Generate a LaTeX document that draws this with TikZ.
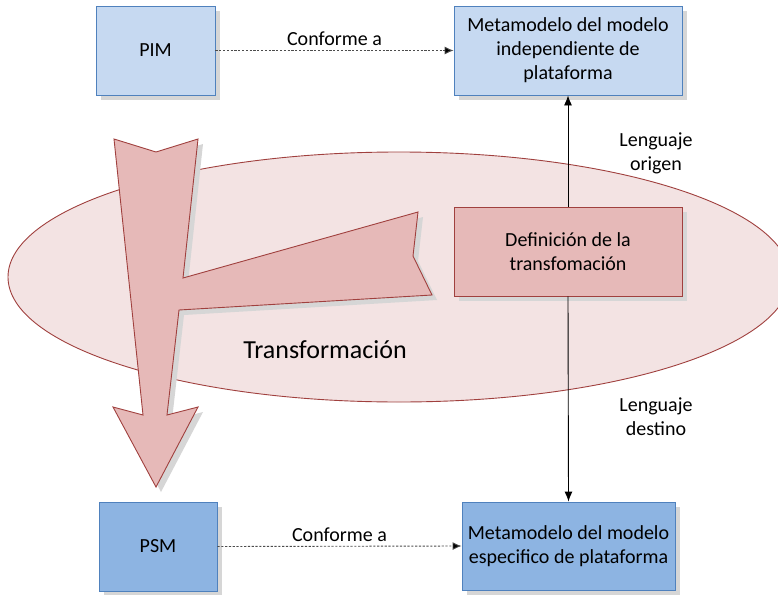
\documentclass[tikz,border=0pt]{standalone}
\usepackage{fontspec}
\setmainfont{Carlito}
\usetikzlibrary{arrows.meta,shadows}

\definecolor{pimfill}{HTML}{C6D9F1}
\definecolor{psmfill}{HTML}{8DB4E2}
\definecolor{bluedge}{HTML}{4F81BD}
\definecolor{rosefill}{HTML}{E6B9B8}
\definecolor{redge}{HTML}{A0403E}
\definecolor{ovalfill}{HTML}{F3E3E3}
\definecolor{shade}{HTML}{D6D6D6}

\tikzset{
  shadowed/.style={drop shadow={shadow xshift=5pt, shadow yshift=-5pt, fill=shade, opacity=1}},
  modelbox/.style={draw=bluedge, line width=0.9pt, shadowed, align=center,
    inner sep=0pt, font=\fontsize{20}{24}\selectfont},
  defbox/.style={draw=redge, fill=rosefill, line width=0.9pt, shadowed, align=center,
    inner sep=0pt, font=\fontsize{20}{24}\selectfont},
  conform/.style={densely dashed, dash pattern=on 2.2pt off 1.6pt, draw=black!70,
    line width=0.9pt, -{Latex[length=9pt,width=8pt,fill=black]}},
  langline/.style={draw=black, line width=0.9pt},
  label/.style={font=\fontsize{20}{24}\selectfont, align=center, inner sep=0pt}
}

\begin{document}
\begin{tikzpicture}[x=1pt, y=-1pt]
  \useasboundingbox (0,0) rectangle (778,594);
  \clip (0,0) rectangle (778,594);

  % transformation oval
  \draw[fill=ovalfill, draw=redge, line width=0.9pt] (399,277) ellipse [x radius=391, y radius=125];

  % bent block arrow from PIM down to PSM
  \draw[fill=rosefill, draw=redge, line width=0.9pt, line join=miter, shadowed]
    (114,139) -- (156,152) -- (198,139) -- (183,278) -- (418,212) -- (413,256)
    -- (432,295) -- (179,310) -- (167,415) -- (198,407) -- (156,487)
    -- (113,407) -- (143,415) -- cycle;

  \node[label, font=\fontsize{26}{30}\selectfont] (trans) at (325,350) {Transformación};

  % models and metamodels
  \node[modelbox, fill=pimfill, minimum width=119pt, minimum height=89pt] (pim) at (155.5,50.5) {PIM};
  \node[modelbox, fill=pimfill, minimum width=228pt, minimum height=89pt] (mpim) at (568,50.5)
    {Metamodelo del modelo\\independiente de\\plataforma};
  \node[defbox, minimum width=228pt, minimum height=89pt] (def) at (568,251.5)
    {Definición de la\\transfomación};
  \node[modelbox, fill=psmfill, minimum width=118pt, minimum height=89pt] (psm) at (158,546.5) {PSM};
  \node[modelbox, fill=psmfill, minimum width=213pt, minimum height=88pt] (mpsm) at (568.5,546)
    {Metamodelo del modelo\\especifico de plataforma};

  % conformance relations
  \draw[conform] (pim.east) -- (mpim.west) node[midway, above=4pt, label] (c1) {Conforme a};
  \draw[conform] (psm.east) -- (mpsm.west) node[midway, above=4pt, label] (c2) {Conforme a};

  % source and target languages
  \draw[langline, -{Latex[length=10pt,width=8pt]}] (def.north) -- (mpim.south);
  \draw[langline, -{Latex[length=10pt,width=8pt]}] (def.south) -- (mpsm.north);
  \node[label] (orig) at (656,153) {Lenguaje\\origen};
  \node[label] (dest) at (656,417) {Lenguaje\\destino};
\end{tikzpicture}
\end{document}
